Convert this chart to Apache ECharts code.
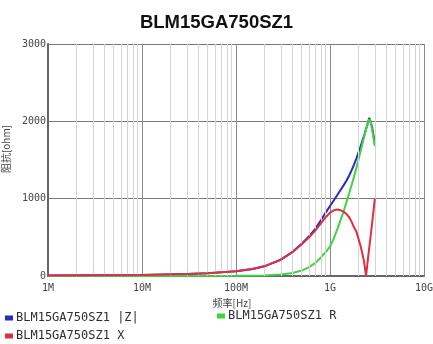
<!DOCTYPE html>
<html>
<head>
<meta charset="utf-8">
<script src="https://cdn.jsdelivr.net/npm/echarts@6/dist/echarts.min.js"></script>
<style>html,body{margin:0;padding:0;background:#fff}#c{width:433px;height:344px}</style>
</head>
<body>
<div id="c"></div>
<script>
// frequencies in Hz and impedances in ohm
const freqZ = [1e6,1e7,3e7,5e7,1e8,1.5e8,2e8,3e8,4e8,5e8,6e8,7e8,8e8,9e8,1e9,1.1e9,1.2e9,1.3e9,1.4e9,1.5e9,1.6e9,1.7e9,1.8e9,1.9e9,2.0e9,2.1e9,2.2e9,2.3e9,2.42e9,2.5e9,2.62e9,2.7e9,2.8e9,2.9e9,3.0e9];
const valZ  = [5,12,25,35,60,90,125,212,313,416,513,614,720,820,905,980,1050,1115,1175,1235,1300,1370,1440,1510,1590,1665,1740,1810,1900,1960,2045,2030,1930,1820,1710];
const freqR = [1e6,1e7,1e8,2e8,3e8,4e8,5e8,6e8,7e8,8e8,9e8,1e9,1.1e9,1.2e9,1.3e9,1.4e9,1.5e9,1.6e9,1.8e9,2.0e9,2.2e9,2.4e9,2.5e9,2.62e9,2.7e9,2.8e9,2.9e9,3.0e9];
const valR  = [0,1,3,8,20,40,70,115,170,240,310,380,490,610,730,840,960,1070,1280,1490,1700,1880,1960,2030,2000,1900,1790,1680];
const freqX = [1e6,1e7,3e7,5e7,1e8,1.5e8,2e8,3e8,4e8,5e8,6e8,7e8,8e8,9e8,1e9,1.1e9,1.2e9,1.3e9,1.4e9,1.5e9,1.6e9,1.7e9,1.8e9,1.9e9,2.0e9,2.1e9,2.2e9,2.3e9,2.42e9,2.5e9,2.6e9,2.7e9,2.8e9,2.9e9,3.0e9];
const valX  = [5,12,25,35,60,90,125,210,310,410,500,590,680,760,820,850,860,850,830,800,760,700,630,580,490,400,300,190,0,160,340,505,675,840,1000];
const seriesNames = ['BLM15GA750SZ1 |Z|','BLM15GA750SZ1 R','BLM15GA750SZ1 X'];
const xTickLabels = {1e6:'1M',1e7:'10M',1e8:'100M',1e9:'1G',1e10:'10G'};
const yTicks = [0,1000,2000,3000];

const minorX = [];
for (let e = 6; e < 10; e++) for (let k = 2; k <= 9; k++) minorX.push(k * Math.pow(10, e));

const pair = (f, v) => f.map((x, i) => [x, v[i]]);
const mono = 'DejaVu Sans Mono';
const legendText = {fontFamily: mono, fontSize: 12, color: '#2e2e3a', padding: [0,0,0,-2]};

const chart = echarts.init(document.getElementById('c'), null, {renderer: 'canvas'});
chart.setOption({
  animation: false,
  backgroundColor: '#fff',
  title: {
    text: 'BLM15GA750SZ1', left: 'center', top: 8,
    textStyle: {fontFamily: 'Liberation Sans', fontWeight: 'bold', fontSize: 18.5, color: '#111'}
  },
  grid: {left: 48, right: 9, top: 44, bottom: 68, outerBoundsMode: 'none', containLabel: false},
  legend: [
    {data: [seriesNames[0]], left: 5, top: 312, padding: 0, itemWidth: 8, itemHeight: 5, icon: 'rect', textStyle: legendText},
    {data: [seriesNames[1]], left: 217, top: 310, padding: 0, itemWidth: 8, itemHeight: 5, icon: 'rect', textStyle: legendText},
    {data: [seriesNames[2]], left: 5, top: 330, padding: 0, itemWidth: 8, itemHeight: 5, icon: 'rect', textStyle: legendText}
  ],
  xAxis: {
    type: 'log', logBase: 10, min: 1e6, max: 1e10,
    name: '频率[Hz]', nameLocation: 'middle', nameGap: 11,
    nameTextStyle: {fontFamily: 'Noto Sans CJK SC', fontSize: 10, color: '#444', padding: [0, 8, 0, 0]},
    axisLine: {show: true, onZero: false, lineStyle: {color: '#666', width: 2}},
    axisTick: {show: false},
    axisLabel: {fontFamily: mono, fontSize: 10, color: '#444', margin: 7,
      formatter: v => xTickLabels[Math.round(v)] || ''},
    splitLine: {show: true, lineStyle: {color: '#8a8a8a', width: 1}}
  },
  yAxis: {
    type: 'value', min: 0, max: 3000, interval: 1000,
    name: '阻抗[ohm]', nameLocation: 'middle', nameGap: 36, nameRotate: 90,
    nameTextStyle: {fontFamily: 'Noto Sans CJK SC', fontSize: 10, color: '#444', padding: [0, 0, 0, 22]},
    axisLine: {show: true, lineStyle: {color: '#666', width: 2}},
    axisTick: {show: false},
    axisLabel: {fontFamily: mono, fontSize: 10, color: '#444', margin: 2,
      formatter: v => yTicks.includes(v) ? String(v) : ''},
    splitLine: {show: true, lineStyle: {color: '#7a7a7a', width: 1}}
  },
  series: [
    {type: 'line', name: '_minor', data: [], z: 1, silent: true,
     markLine: {silent: true, symbol: 'none', label: {show: false},
       lineStyle: {color: '#d4d4d4', width: 1, type: 'solid'}, emphasis: {disabled: true},
       data: minorX.map(v => ({xAxis: v}))}},
    {type: 'line', name: seriesNames[0], data: pair(freqZ, valZ), showSymbol: false, z: 3,
     color: '#2a2ac0', lineStyle: {width: 2}},
    {type: 'line', name: seriesNames[1], data: pair(freqR, valR), showSymbol: false, z: 4,
     color: '#3fd43f', lineStyle: {width: 2}},
    {type: 'line', name: seriesNames[2], data: pair(freqX, valX), showSymbol: false, z: 5,
     color: '#dd2f45', lineStyle: {width: 2}}
  ]
});
</script>
</body>
</html>
